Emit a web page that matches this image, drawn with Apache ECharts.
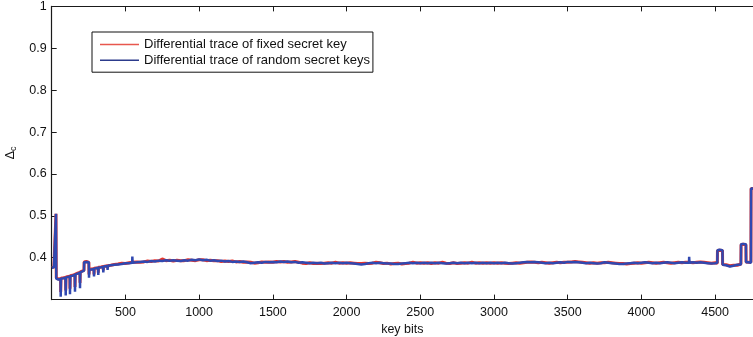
<!DOCTYPE html>
<html>
<head>
<meta charset="utf-8">
<script src="https://cdn.jsdelivr.net/npm/echarts@6/dist/echarts.min.js"></script>
<style>
html,body{margin:0;padding:0;background:#fff;}
#chart{width:753px;height:337px;}
</style>
</head>
<body>
<div id="chart"></div>
<script>
// ---- data ----
var keyBits = [
  1, 15, 28, 29, 31, 45, 60, 61, 63, 80, 94, 95, 97, 110, 123, 124, 126, 140, 157, 158, 160, 175, 191, 192, 194, 205, 219,
  220, 235, 252, 253, 255, 270, 286, 287, 289, 300, 315, 316, 318, 335, 349, 350, 352, 365, 378, 379, 381, 400, 425, 450, 475,
  500, 525, 546, 547, 549, 575, 600, 625, 650, 675, 700, 725, 750, 775, 800, 825, 850, 875, 900, 925, 950, 975,
  1000, 1025, 1050, 1075, 1100, 1125, 1150, 1175, 1200, 1225, 1250, 1275, 1300, 1325, 1350, 1375, 1400, 1425, 1450, 1475,
  1500, 1525, 1550, 1575, 1600, 1625, 1650, 1675, 1700, 1725, 1750, 1775, 1800, 1825, 1850, 1875, 1900, 1925, 1950, 1975,
  2000, 2025, 2050, 2075, 2100, 2125, 2150, 2175, 2200, 2225, 2250, 2275, 2300, 2325, 2350, 2375, 2400, 2425, 2450, 2475,
  2500, 2525, 2550, 2575, 2600, 2625, 2650, 2675, 2700, 2725, 2750, 2775, 2800, 2825, 2850, 2875, 2900, 2925, 2950, 2975,
  3000, 3025, 3050, 3075, 3100, 3125, 3150, 3175, 3200, 3225, 3250, 3275, 3300, 3325, 3350, 3375, 3400, 3425, 3450, 3475,
  3500, 3525, 3550, 3575, 3600, 3625, 3650, 3675, 3700, 3725, 3750, 3775, 3800, 3825, 3850, 3875, 3900, 3925, 3950, 3975,
  4000, 4025, 4050, 4075, 4100, 4125, 4150, 4175, 4200, 4225, 4250, 4275, 4300, 4323, 4324, 4326, 4350, 4375, 4400, 4425, 4450, 4475,
  4500, 4515, 4516, 4530, 4550, 4551, 4575, 4600, 4625, 4650, 4675, 4676, 4690, 4709, 4710, 4725, 4743, 4744, 4757
];
var fixedKey = [
  0.377, 0.378, 0.377, 0.505, 0.352, 0.349, 0.350, 0.318, 0.351, 0.352, 0.353, 0.322, 0.354, 0.355, 0.356, 0.326, 0.357, 0.358, 0.360, 0.330, 0.361, 0.363, 0.365, 0.340, 0.366, 0.369, 0.370,
  0.390, 0.391, 0.389, 0.360, 0.372, 0.373, 0.374, 0.360, 0.375, 0.375, 0.376, 0.364, 0.377, 0.378, 0.379, 0.370, 0.379, 0.380, 0.381, 0.375, 0.381, 0.382, 0.384, 0.385, 0.387,
  0.386, 0.388, 0.389, 0.390, 0.389, 0.390, 0.389, 0.390, 0.392, 0.391, 0.393, 0.392, 0.397, 0.393, 0.394, 0.392, 0.394, 0.393, 0.393, 0.395, 0.394, 0.393,
  0.395, 0.395, 0.393, 0.394, 0.393, 0.393, 0.391, 0.392, 0.391, 0.392, 0.390, 0.391, 0.389, 0.390, 0.389, 0.387, 0.388, 0.390, 0.389, 0.390,
  0.389, 0.391, 0.390, 0.391, 0.389, 0.390, 0.391, 0.389, 0.387, 0.386, 0.388, 0.386, 0.387, 0.386, 0.387, 0.388, 0.387, 0.389, 0.387, 0.388,
  0.387, 0.388, 0.387, 0.386, 0.386, 0.387, 0.386, 0.387, 0.389, 0.388, 0.386, 0.387, 0.385, 0.386, 0.387, 0.385, 0.386, 0.387, 0.389, 0.387,
  0.388, 0.387, 0.388, 0.386, 0.388, 0.387, 0.389, 0.387, 0.386, 0.388, 0.386, 0.387, 0.388, 0.387, 0.389, 0.387, 0.388, 0.387, 0.388, 0.387,
  0.388, 0.387, 0.388, 0.387, 0.386, 0.387, 0.388, 0.387, 0.388, 0.389, 0.390, 0.389, 0.388, 0.389, 0.388, 0.387, 0.388, 0.389, 0.388, 0.389,
  0.389, 0.390, 0.391, 0.390, 0.389, 0.388, 0.387, 0.388, 0.387, 0.388, 0.388, 0.389, 0.388, 0.387, 0.386, 0.386, 0.385, 0.386, 0.387, 0.388,
  0.387, 0.388, 0.389, 0.388, 0.387, 0.388, 0.389, 0.388, 0.387, 0.388, 0.389, 0.388, 0.389, 0.389, 0.389, 0.388, 0.388, 0.389, 0.390, 0.389, 0.388, 0.387,
  0.388, 0.387, 0.417, 0.418, 0.417, 0.384, 0.383, 0.381, 0.382, 0.382, 0.385, 0.431, 0.432, 0.431, 0.390, 0.389, 0.389, 0.565, 0.565
];
var randomKeys = [
  0.376, 0.377, 0.376, 0.505, 0.350, 0.348, 0.349, 0.307, 0.350, 0.351, 0.352, 0.310, 0.353, 0.354, 0.355, 0.313, 0.356, 0.357, 0.359, 0.319, 0.360, 0.362, 0.364, 0.327, 0.365, 0.368, 0.369,
  0.389, 0.390, 0.389, 0.352, 0.371, 0.372, 0.373, 0.355, 0.374, 0.375, 0.376, 0.359, 0.376, 0.377, 0.378, 0.365, 0.379, 0.380, 0.380, 0.371, 0.381, 0.382, 0.383, 0.384, 0.385,
  0.387, 0.387, 0.388, 0.403, 0.388, 0.389, 0.390, 0.391, 0.390, 0.392, 0.391, 0.393, 0.392, 0.394, 0.393, 0.394, 0.393, 0.392, 0.394, 0.393, 0.395, 0.394,
  0.396, 0.394, 0.395, 0.393, 0.394, 0.392, 0.393, 0.391, 0.392, 0.390, 0.391, 0.390, 0.391, 0.389, 0.387, 0.388, 0.389, 0.388, 0.390, 0.389,
  0.390, 0.389, 0.391, 0.390, 0.391, 0.389, 0.390, 0.388, 0.389, 0.388, 0.387, 0.388, 0.387, 0.388, 0.386, 0.387, 0.388, 0.387, 0.388, 0.387,
  0.388, 0.387, 0.386, 0.385, 0.384, 0.385, 0.387, 0.388, 0.387, 0.388, 0.387, 0.386, 0.386, 0.385, 0.385, 0.386, 0.387, 0.388, 0.387, 0.388,
  0.387, 0.388, 0.387, 0.388, 0.387, 0.388, 0.387, 0.386, 0.387, 0.388, 0.387, 0.388, 0.387, 0.388, 0.387, 0.388, 0.387, 0.388, 0.387, 0.388,
  0.387, 0.388, 0.387, 0.388, 0.387, 0.386, 0.387, 0.388, 0.389, 0.390, 0.389, 0.390, 0.389, 0.388, 0.387, 0.388, 0.387, 0.388, 0.389, 0.388,
  0.390, 0.389, 0.390, 0.389, 0.388, 0.387, 0.388, 0.387, 0.386, 0.387, 0.389, 0.388, 0.387, 0.386, 0.385, 0.385, 0.386, 0.387, 0.388, 0.387,
  0.388, 0.389, 0.388, 0.387, 0.388, 0.387, 0.388, 0.389, 0.388, 0.387, 0.388, 0.389, 0.388, 0.388, 0.402, 0.388, 0.389, 0.388, 0.389, 0.388, 0.387, 0.386,
  0.387, 0.388, 0.418, 0.419, 0.418, 0.383, 0.382, 0.379, 0.381, 0.383, 0.384, 0.432, 0.433, 0.432, 0.389, 0.389, 0.388, 0.565, 0.565
];
var seriesNames = ['Differential trace of fixed secret key', 'Differential trace of random secret keys'];
var xTicks = [500, 1000, 1500, 2000, 2500, 3000, 3500, 4000, 4500];
var yTicks = [0.4, 0.5, 0.6, 0.7, 0.8, 0.9, 1];

function pairs(xs, ys) {
  var out = [];
  for (var i = 0; i < xs.length; i++) out.push([xs[i], ys[i]]);
  return out;
}
var FONT = 'Liberation Sans, Arial, Helvetica, sans-serif';
var chart = echarts.init(document.getElementById('chart'), null, {renderer: 'canvas'});
function near(v, list) {
  for (var i = 0; i < list.length; i++) if (Math.abs(v - list[i]) < 1e-6) return true;
  return false;
}
var axisLine = {show: true, lineStyle: {color: '#1a1a1a', width: 1.2}};
var option = {
  animation: false,
  backgroundColor: '#fff',
  grid: {left: 51.7, top: 6.4, right: 0, bottom: 37.4, containLabel: false, outerBoundsMode: 'none'},
  legend: {
    orient: 'vertical',
    left: 92, top: 32,
    padding: [5.5, 3, 5, 8],
    itemGap: 1.7,
    itemWidth: 39, itemHeight: 1.4,
    icon: 'rect',
    borderColor: '#111', borderWidth: 1,
    backgroundColor: '#fff',
    textStyle: {fontFamily: FONT, fontSize: 13, lineHeight: 14, color: '#111'},
    data: [
      {name: seriesNames[0], itemStyle: {color: '#e8574e'}},
      {name: seriesNames[1], itemStyle: {color: '#2c3b8c'}}
    ]
  },
  xAxis: [{
    type: 'value', min: 0, max: 4757, interval: 500,
    position: 'bottom',
    name: 'key bits', nameLocation: 'middle', nameGap: 20,
    nameTextStyle: {fontFamily: FONT, fontSize: 12.5, color: '#111'},
    axisLine: axisLine,
    axisTick: {show: true, inside: true, length: 5, lineStyle: {color: '#1a1a1a', width: 1}},
    axisLabel: {margin: 6, fontFamily: FONT, fontSize: 12.5, color: '#111', showMaxLabel: false,
      formatter: function (v) { return near(v, xTicks) ? String(v) : ''; }},
    splitLine: {show: false}
  }, {
    type: 'value', min: 0, max: 4757, interval: 500,
    position: 'top',
    axisLine: axisLine,
    axisTick: {show: true, inside: true, length: 5, lineStyle: {color: '#1a1a1a', width: 1}},
    axisLabel: {show: false},
    splitLine: {show: false}
  }],
  yAxis: {
    type: 'value', min: 0.3, max: 1, interval: 0.1,
    name: '{d|Δ}{s|c}', nameLocation: 'middle', nameRotate: 90, nameGap: 32,
    nameTextStyle: {
      rich: {
        d: {fontFamily: FONT, fontSize: 13, color: '#111', lineHeight: 16, verticalAlign: 'middle'},
        s: {fontFamily: FONT, fontSize: 9, color: '#111', lineHeight: 16, verticalAlign: 'bottom', padding: [5, 0, 0, 0]}
      }
    },
    axisLine: axisLine,
    axisTick: {show: true, inside: true, length: 5, lineStyle: {color: '#1a1a1a', width: 1}},
    axisLabel: {margin: 5, fontFamily: FONT, fontSize: 12.5, color: '#111',
      formatter: function (v) { return near(v, yTicks) ? String(Math.round(v * 10) / 10) : ''; }},
    splitLine: {show: false}
  },
  series: [{
    name: seriesNames[0], type: 'line', xAxisIndex: 0, symbol: 'none', showSymbol: false,
    data: pairs(keyBits, fixedKey),
    lineStyle: {color: '#e8352a', width: 3},
    itemStyle: {color: '#e8352a'},
    z: 2
  }, {
    name: seriesNames[1], type: 'line', xAxisIndex: 0, symbol: 'none', showSymbol: false,
    data: pairs(keyBits, randomKeys),
    lineStyle: {color: '#3048b0', width: 2.5},
    itemStyle: {color: '#3048b0'},
    z: 3
  }]
};
chart.setOption(option);
</script>
</body>
</html>
